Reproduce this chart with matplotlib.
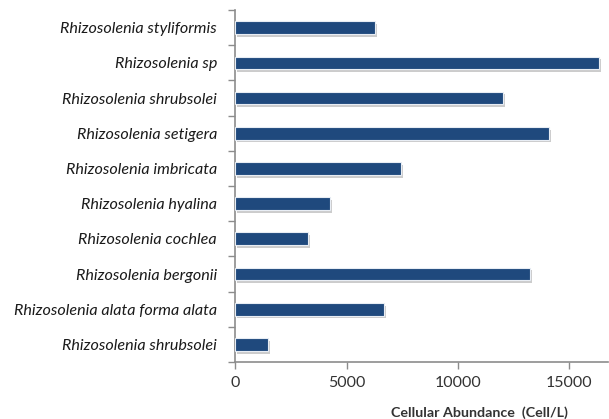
import numpy as np
import matplotlib.pyplot as plt
from matplotlib import patheffects as pe

species = [
    "Rhizosolenia styliformis",
    "Rhizosolenia sp",
    "Rhizosolenia shrubsolei",
    "Rhizosolenia setigera",
    "Rhizosolenia imbricata",
    "Rhizosolenia hyalina",
    "Rhizosolenia cochlea",
    "Rhizosolenia bergonii",
    "Rhizosolenia alata forma alata",
    "Rhizosolenia shrubsolei",
]
abundance = [6260, 16330, 12000, 14100, 7430, 4250, 3270, 13250, 6670, 1480]
xticks = [0, 5000, 10000, 15000]

BAR_COLOR = "#1F497D"
AXIS_COLOR = "#8C8C8C"

plt.rcParams["font.family"] = ["Lato", "DejaVu Sans"]

fig = plt.figure(figsize=(6.09, 4.19), dpi=100)
ax = fig.add_axes([0.386, 0.136, 0.613, 0.840])

n = len(species)
ypos = np.arange(n)[::-1]
bars = ax.barh(ypos, abundance, height=0.36, color=BAR_COLOR,
               edgecolor="#e8edf4", linewidth=0.8, zorder=3)
for b in bars:
    b.set_path_effects([
        pe.SimplePatchShadow(offset=(1.5, -2), shadow_rgbFace="#9a9a9a", alpha=0.5),
        pe.Normal(),
    ])

ax.set_ylim(-0.5, n - 0.5)
ax.set_xlim(0, 16750)
ax.set_yticks(ypos)
ax.set_yticklabels(species, fontsize=11.6, style="italic", color="#1a1a1a")
ax.set_yticks(np.arange(-0.5, n, 1.0), minor=True)
ax.tick_params(axis="y", which="major", length=0, pad=13)
ax.tick_params(axis="y", which="minor", length=5, width=1, color=AXIS_COLOR, direction="out")

ax.set_xticks(xticks)
ax.set_xticklabels([str(t) for t in xticks], fontsize=11.5, color="#333333")
ax.tick_params(axis="x", length=5, width=1, color=AXIS_COLOR, direction="out", pad=5)

for side in ["top", "right"]:
    ax.spines[side].set_visible(False)
for side in ["left", "bottom"]:
    ax.spines[side].set_color(AXIS_COLOR)
    ax.spines[side].set_linewidth(1.2)

ax.set_xlabel("Cellular Abundance  (Cell/L)", fontsize=10.3, fontweight="bold", color="#333333")
ax.xaxis.set_label_coords(0.655, -0.125)

fig.savefig("out.png", dpi=100)
